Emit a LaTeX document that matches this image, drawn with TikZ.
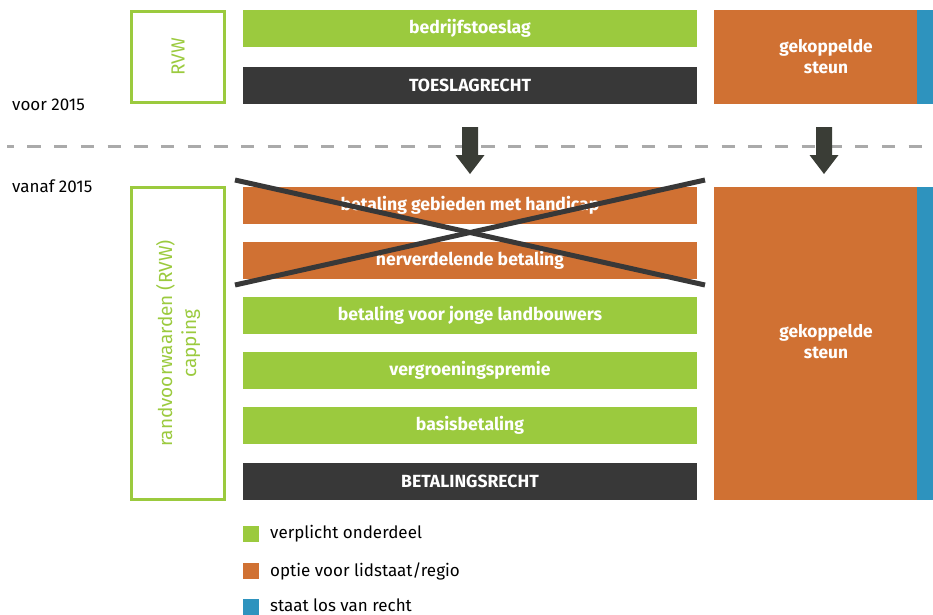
\documentclass[tikz,border=0pt]{standalone}
\usepackage{fontspec}
\setmainfont{Fira Sans}
\definecolor{cgreen}{HTML}{9BCA3E}
\definecolor{corange}{HTML}{D07133}
\definecolor{cdark}{HTML}{383838}
\definecolor{cblue}{HTML}{2E93BE}
\definecolor{carrow}{HTML}{3A3D36}
\definecolor{cdash}{HTML}{AAAAAA}
\begin{document}
\begin{tikzpicture}[x=1pt,y=-1pt,
  bar/.style={minimum width=454pt,minimum height=37pt,inner sep=0pt,text=white,font=\fontsize{17.6}{20}\selectfont\bfseries},
  greenbar/.style={bar,fill=cgreen},
  orangebar/.style={bar,fill=corange},
  darkbar/.style={bar,fill=cdark},
  rvwbox/.style={draw=cgreen,line width=3pt,minimum width=93pt,inner sep=0pt},
  rvwtext/.style={text=cgreen,rotate=90,align=center,font=\fontsize{19}{24}\selectfont},
  steunbox/.style={fill=corange,minimum width=203pt,inner sep=0pt},
  bluestrip/.style={fill=cblue,minimum width=16pt,inner sep=0pt},
  steuntext/.style={text=white,align=center,font=\fontsize{17.3}{21}\selectfont\bfseries},
  yeartext/.style={anchor=base west,inner sep=0pt,font=\fontsize{17}{20}\selectfont},
  legsq/.style={minimum size=16pt,inner sep=0pt},
  legtext/.style={anchor=west,inner sep=0pt,font=\fontsize{17}{20}\selectfont},
  blockarrow/.style={fill=carrow},
  cross/.style={draw=cdark,line width=5pt}
]
\useasboundingbox (0,0) rectangle (933,614);
% top section
\node[rvwbox,minimum height=91.5pt] (rvw1) at (178,57) {};
\node[rvwtext] (rvw1t) at (rvw1.center) {RVW};
\node[greenbar] (bt) at (470,28.5) {bedrijfstoeslag};
\node[darkbar] (tr) at (470,85) {TOESLAGRECHT};
\node[steunbox,minimum height=94pt] (gs1) at (815.5,57) {};
\node[bluestrip,minimum height=94pt] (bl1) at (925,57) {};
\node[steuntext] (gs1t) at (826,57) {gekoppelde\\steun};
\node[yeartext] (voor) at (12,110) {voor 2015};
% separator
\coordinate (dl) at (7,146);
\coordinate (dr) at (925,146);
\draw[cdash,line width=3pt,dash pattern=on 13.3pt off 13.4pt,dash phase=6.3pt] (dl) -- (dr);
% arrows
\fill[blockarrow] (462,127) -- (478,127) -- (478,155) -- (484.5,155) -- (470,174) -- (455.5,155) -- (462,155) -- cycle;
\fill[blockarrow] (816,127) -- (832,127) -- (832,155) -- (838.5,155) -- (824,174) -- (809.5,155) -- (816,155) -- cycle;
% bottom section
\node[yeartext] (vanaf) at (12,192) {vanaf 2015};
\node[rvwbox,minimum height=312pt] (rvw2) at (178,343.5) {};
\node[rvwtext] (rvw2t) at (rvw2.center) {randvoorwaarden (RVW)\\capping};
\node[orangebar] (hand) at (470,205.5) {betaling gebieden met handicap};
\node[orangebar] (herv) at (470,260.5) {herverdelende betaling};
\node[greenbar] (jong) at (470,315.5) {betaling voor jonge landbouwers};
\node[greenbar] (verg) at (470,370.5) {vergroeningspremie};
\node[greenbar] (basis) at (470,425.5) {basisbetaling};
\node[darkbar] (br) at (470,481.5) {BETALINGSRECHT};
\node[steunbox,minimum height=313pt] (gs2) at (815.5,343.5) {};
\node[bluestrip,minimum height=313pt] (bl2) at (925,343.5) {};
\node[steuntext] (gs2t) at (826,342) {gekoppelde\\steun};
% cross
\coordinate (c1) at (235,180);
\coordinate (c2) at (705,285);
\coordinate (c3) at (235,285);
\coordinate (c4) at (705,180);
\draw[cross] (c1) -- (c2);
\draw[cross] (c3) -- (c4);
% legend
\node[legsq,fill=cgreen] (l1) at (251,534) {};
\node[legtext] (l1t) at (270,534) {verplicht onderdeel};
\node[legsq,fill=corange] (l2) at (251,571) {};
\node[legtext] (l2t) at (270,571) {optie voor lidstaat/regio};
\node[legsq,fill=cblue] (l3) at (251,607) {};
\node[legtext] (l3t) at (270,605) {staat los van recht};
\end{tikzpicture}
\end{document}
